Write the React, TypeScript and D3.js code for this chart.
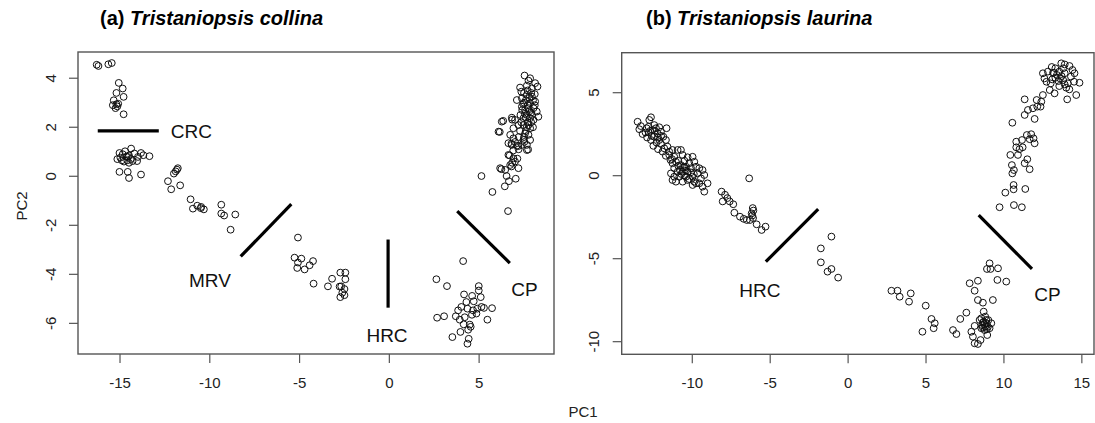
import React from 'react';
import * as d3 from 'd3';

// PCA scores, panel (a) Tristaniopsis collina
const collinaPoints: [number, number][] = [
  [-16.3, 4.55], [-16.2, 4.5], [-15.65, 4.57], [-15.46, 4.62],
  [-15.07, 3.81], [-14.85, 3.58], [-15.2, 3.4], [-14.8, 3.24], [-15.35, 3.1], [-15.2, 2.94],
  [-15.4, 2.9], [-15.15, 2.85], [-15.25, 2.78], [-15.1, 2.96], [-14.8, 2.53],
  [-15.03, 0.95], [-14.72, 1.02], [-14.38, 1.13], [-14.98, 0.76], [-14.6, 0.65], [-14.5, 0.85],
  [-14.2, 0.93], [-14.0, 0.79], [-13.83, 0.95], [-13.7, 0.86], [-13.36, 0.82], [-15.03, 0.18],
  [-14.57, 0.18], [-14.5, -0.07], [-13.83, 0.07], [-14.78, 0.6], [-14.3, 0.62], [-14.05, 0.62],
  [-14.85, 0.9], [-14.65, 0.8], [-14.5, 0.55], [-15.15, 0.7], [-14.57, 0.79], [-14.4, 0.7], [-14.9, 0.65],
  [-11.83, 0.27], [-11.78, 0.33], [-12.0, 0.11], [-12.33, -0.2], [-12.15, -0.53], [-11.65, -0.37], [-11.9, 0.2],
  [-11.07, -0.94], [-10.94, -1.32], [-10.7, -1.2], [-10.48, -1.25], [-10.33, -1.35], [-10.5, -1.3],
  [-9.36, -1.16], [-9.36, -1.52], [-9.2, -1.6], [-8.58, -1.56], [-8.84, -2.18],
  [-5.09, -2.5], [-5.28, -3.32], [-4.9, -3.36], [-5.09, -3.52], [-4.25, -3.46], [-4.44, -3.63],
  [-4.72, -3.8], [-5.13, -3.74], [-4.22, -4.38], [-3.19, -4.18], [-3.42, -4.49], [-2.73, -3.93],
  [-2.45, -3.93], [-2.45, -4.2], [-2.68, -4.49], [-2.5, -4.6], [-2.62, -4.75], [-2.73, -4.93],
  [-2.5, -4.85], [-2.77, -4.5],
  [4.11, -3.46], [2.62, -4.2], [3.21, -4.48], [2.66, -5.77], [3.05, -5.71], [4.16, -4.82],
  [4.61, -4.88], [4.98, -4.48], [4.98, -4.66], [5.09, -4.93], [4.7, -5.1], [4.29, -5.13],
  [4.01, -5.33], [3.83, -5.47], [4.35, -5.4], [4.66, -5.47], [4.9, -5.4], [5.13, -5.33],
  [5.27, -5.37], [5.72, -5.38], [4.85, -5.6], [3.7, -5.71], [3.92, -5.85], [5.46, -5.85],
  [4.14, -6.04], [4.48, -6.05], [4.53, -6.14], [4.39, -6.26], [3.96, -6.35], [3.51, -6.56],
  [4.42, -6.63], [4.35, -6.83], [4.6, -5.65], [4.2, -5.75],
  [6.61, -1.42], [5.74, -0.64], [5.13, 0.01], [6.43, -0.41], [6.66, -0.2], [7.04, -0.1],
  [6.53, 0.01], [6.24, 0.29], [6.8, 0.4], [6.84, 0.55], [7.13, 0.72], [6.7, 0.85],
  [6.15, 1.81], [6.34, 2.26], [6.84, 2.31], [7.73, 1.09], [6.8, 1.33], [7.18, 1.23], [7.52, 1.4],
  [7.53, 4.11], [7.84, 4.0], [8.12, 3.8], [8.25, 3.66], [7.66, 3.7], [7.28, 3.62], [7.94, 3.59],
  [7.1, 3.11], [7.38, 3.18], [7.66, 3.32], [7.94, 3.25], [7.84, 2.98], [8.12, 3.05], [7.38, 2.84],
  [7.56, 2.71], [7.75, 2.78], [8.03, 2.78], [8.21, 2.64], [8.3, 2.43], [7.66, 2.5], [7.47, 2.37],
  [7.84, 2.37], [8.03, 2.3], [6.82, 2.39], [7.0, 2.3], [6.26, 2.23], [6.08, 1.82], [7.19, 2.09],
  [7.47, 2.09], [7.75, 2.09], [7.84, 1.96], [6.91, 1.96], [7.28, 1.85], [7.56, 1.75], [7.75, 1.69],
  [6.73, 1.69], [6.91, 1.55], [6.63, 1.35], [6.82, 1.28], [7.1, 1.25], [7.38, 1.28], [7.66, 1.28],
  [7.84, 1.48], [7.47, 1.48], [7.66, 1.07], [6.63, 0.87], [6.91, 0.73], [6.73, 0.46], [7.0, 0.6],
  [6.17, 0.33], [6.45, 0.26], [7.19, 0.33],
  [7.5, 3.0], [7.7, 2.9], [7.9, 2.6], [7.6, 2.4], [7.7, 2.2], [7.4, 2.7], [8.0, 2.0], [7.3, 2.5],
  [7.9, 3.4], [7.5, 3.4], [8.1, 2.9], [7.2, 1.6], [7.5, 1.6], [7.0, 1.4], [7.2, 1.1], [6.9, 1.05],
  [7.6, 3.1], [7.8, 3.2], [8.0, 3.1], [7.7, 3.5], [7.45, 2.95], [7.95, 2.5], [7.55, 2.55],
  [7.8, 2.65], [7.65, 2.0], [7.35, 2.2], [7.9, 2.2], [7.6, 1.85], [8.1, 3.35], [7.35, 3.45], [7.75, 3.9],
];

// PCA scores, panel (b) Tristaniopsis laurina
const laurinaPoints: [number, number][] = [
  [-13.51, 3.25], [-13.3, 2.99], [-13.4, 2.8], [-13.19, 2.51], [-12.93, 2.86], [-12.76, 3.36],
  [-12.65, 3.52], [-12.44, 3.05], [-12.55, 2.75], [-12.33, 2.86], [-12.23, 2.55], [-12.12, 2.92],
  [-12.01, 2.65], [-11.65, 2.86], [-11.86, 2.35], [-12.44, 2.35], [-12.65, 2.15], [-12.12, 2.15],
  [-11.69, 2.15], [-12.01, 1.91], [-11.8, 1.65], [-11.59, 1.75], [-11.91, 1.45], [-11.48, 1.45],
  [-11.27, 1.55], [-11.48, 1.25], [-11.16, 1.14], [-10.94, 1.55], [-10.73, 1.55], [-10.62, 1.25],
  [-10.3, 1.11], [-9.98, 1.14], [-9.87, 0.84], [-10.19, 0.75], [-10.4, 0.54], [-10.73, 0.64],
  [-11.05, 0.84], [-11.27, 0.75], [-11.16, 0.45], [-10.94, 0.24], [-10.62, 0.24], [-10.3, 0.24],
  [-10.08, 0.45], [-9.76, 0.54], [-9.55, 0.45], [-9.34, 0.34], [-9.66, 0.14], [-9.98, -0.06],
  [-10.4, -0.06], [-10.83, -0.06], [-11.16, -0.06], [-11.37, 0.14], [-11.27, -0.26], [-11.05, -0.36],
  [-10.62, -0.36], [-10.3, -0.26], [-9.87, -0.36], [-9.76, -0.46], [-9.44, -0.16], [-9.23, 0.04],
  [-9.02, -0.46], [-9.34, -0.66], [-9.23, -0.96], [-9.55, -0.46], [-9.98, -0.56],
  [-12.8, 2.6], [-12.6, 2.4], [-12.9, 2.3], [-12.3, 2.0], [-12.5, 1.8], [-12.2, 1.6], [-11.7, 1.2],
  [-11.4, 0.95], [-10.9, 0.9], [-10.5, 0.9], [-10.7, 0.1], [-10.2, -0.2], [-10.5, 0.5],
  [-12.7, 2.7], [-12.4, 2.7], [-12.2, 2.3], [-12.0, 2.4], [-12.8, 2.95], [-13.0, 2.6], [-11.3, 1.0],
  [-10.9, 0.6], [-10.6, 0.5], [-10.4, 0.3], [-10.8, 0.35], [-10.5, 0.0], [-10.1, 0.2], [-9.9, 0.1],
  [-8.12, -0.96], [-7.9, -1.15], [-7.75, -1.35], [-8.05, -1.55], [-7.6, -1.55], [-7.37, -1.72],
  [-7.3, -2.23], [-6.94, -2.47], [-6.7, -2.6], [-6.5, -2.67], [-6.3, -2.67], [-6.19, -2.27],
  [-6.08, -2.1], [-6.12, -1.95], [-6.35, -0.16], [-5.87, -2.93], [-5.55, -3.27], [-5.3, -3.07],
  [-6.15, -2.4], [-6.1, -2.55],
  [-1.07, -3.67], [-1.75, -4.38], [-1.75, -5.22], [-1.32, -5.78], [-1.07, -5.62], [-0.64, -6.14],
  [2.78, -6.93], [3.17, -6.93], [3.31, -7.29], [4.02, -7.09], [3.91, -7.59], [4.98, -7.83],
  [5.35, -8.63], [5.56, -8.89], [5.49, -9.19], [4.77, -9.4], [6.73, -9.3], [6.95, -9.54],
  [7.2, -8.63], [7.59, -8.25],
  [7.8, -6.48], [8.33, -6.33], [8.12, -6.93], [8.33, -7.49], [8.65, -7.65], [8.7, -8.19],
  [9.29, -7.49], [9.08, -5.28], [8.91, -5.62], [9.14, -5.62], [9.62, -5.58], [9.58, -6.28],
  [10.15, -6.38], [8.55, -8.59], [9.19, -8.89], [8.87, -8.69], [8.65, -8.85], [8.97, -9.1],
  [8.55, -9.19], [8.12, -9.05], [7.91, -9.4], [8.01, -9.7], [8.12, -10.1], [8.33, -10.14],
  [8.5, -9.9], [8.93, -9.6], [8.76, -9.3], [9.08, -9.19], [8.44, -8.69], [8.8, -8.49],
  [8.7, -8.8], [8.9, -8.9], [8.6, -9.0], [8.8, -9.1], [9.0, -8.7], [8.75, -8.95], [8.65, -9.15], [8.9, -9.25],
  [9.72, -1.9], [10.64, -1.77], [11.15, -1.9], [10.09, -1.02], [10.62, -0.82], [10.62, -0.56],
  [11.37, -0.8], [10.54, 0.14], [10.64, 0.34], [10.51, 0.64], [11.33, 0.75], [11.65, 0.39],
  [11.5, 0.99], [10.41, 1.25], [10.9, 1.25], [10.79, 1.71], [11.0, 1.6], [11.2, 1.71],
  [10.79, 2.05], [11.16, 2.15], [11.47, 2.45], [11.75, 2.5], [11.65, 2.2], [11.97, 1.95],
  [11.9, 2.25], [10.54, 3.19], [11.33, 3.66], [11.54, 3.96], [11.33, 4.6], [11.97, 3.42],
  [11.86, 4.06], [12.14, 4.16], [12.4, 4.46], [12.35, 4.16], [12.1, 4.56], [12.5, 4.86],
  [12.5, 6.17], [12.82, 6.27], [13.15, 6.2], [13.68, 6.77], [13.9, 6.7], [13.8, 6.47],
  [14.21, 6.61], [14.53, 6.17], [14.3, 5.97], [14.85, 5.6], [14.64, 4.86], [14.06, 4.6],
  [14.2, 5.2], [14.0, 5.3], [13.55, 5.4], [13.25, 4.96], [12.94, 5.16], [13.0, 5.56],
  [12.73, 5.66], [12.6, 5.86], [13.1, 5.8], [13.4, 6.07], [13.6, 5.86], [13.8, 5.76],
  [13.9, 6.17], [13.3, 6.47], [13.07, 6.55], [13.55, 6.27], [14.1, 5.56], [14.4, 6.37], [14.5, 5.66],
  [13.3, 5.9], [13.7, 6.0], [13.2, 6.2], [13.9, 5.5], [13.5, 5.7],
];

const collinaXTicks = [-15, -10, -5, 0, 5];
const collinaYTicks = [-6, -4, -2, 0, 2, 4];
const laurinaXTicks = [-10, -5, 0, 5, 10, 15];
const laurinaYTicks = [-10, -5, 0, 5];

// group boundary segments [x1, y1, x2, y2] and their labels [name, x, y]
const collinaSegments = [
  [-16.24, 1.85, -12.84, 1.85],
  [-8.28, -3.27, -5.46, -1.14],
  [-0.07, -2.58, -0.07, -5.36],
  [3.78, -1.42, 6.71, -3.54],
];
const collinaLabels: [string, number, number][] = [
  ['CRC', -11.03, 1.55],
  ['MRV', -9.99, -4.51],
  ['HRC', -0.13, -6.75],
  ['CP', 7.53, -4.87],
];
const laurinaSegments = [
  [-5.28, -5.18, -1.92, -2.02],
  [8.38, -2.37, 11.8, -5.62],
];
const laurinaLabels: [string, number, number][] = [
  ['HRC', -5.66, -7.29],
  ['CP', 12.79, -7.53],
];

const FONT = '"Liberation Sans", Arial, Helvetica, sans-serif';
const AXIS = '#555';

type PanelProps = {
  title: string;
  species: string;
  titleX: number;
  left: number; right: number; top: number; bottom: number;
  xDomain: [number, number];
  yDomain: [number, number];
  points: [number, number][];
  xTicks: number[];
  yTicks: number[];
  segments: number[][];
  labels: [string, number, number][];
};

const Panel = (p: PanelProps) => {
  const x = d3.scaleLinear().domain(p.xDomain).range([p.left, p.right]);
  const y = d3.scaleLinear().domain(p.yDomain).range([p.bottom, p.top]);
  const tl = 9;
  return (
    <g>
      <text x={p.titleX} y={25} fontFamily={FONT} fontSize={20} fontWeight="bold">
        {p.title} <tspan fontStyle="italic">{p.species}</tspan>
      </text>
      <rect x={p.left} y={p.top} width={p.right - p.left} height={p.bottom - p.top}
        fill="none" stroke={AXIS} strokeWidth={1.4} />
      {p.xTicks.map((t) => (
        <g key={'x' + t}>
          <line x1={x(t)} x2={x(t)} y1={p.bottom} y2={p.bottom + tl} stroke={AXIS} strokeWidth={1.2} />
          <text x={x(t)} y={388} textAnchor="middle" fontFamily={FONT} fontSize={15} fill="#222">{t}</text>
        </g>
      ))}
      {p.yTicks.map((t) => (
        <g key={'y' + t}>
          <line x1={p.left - tl} x2={p.left} y1={y(t)} y2={y(t)} stroke={AXIS} strokeWidth={1.2} />
          <text transform={`translate(${p.left - 22.5},${y(t)}) rotate(-90)`} textAnchor="middle"
            fontFamily={FONT} fontSize={15} fill="#222">{t}</text>
        </g>
      ))}
      {p.points.map((d, i) => (
        <circle key={i} cx={x(d[0])} cy={y(d[1])} r={3.4} fill="none" stroke="#111" strokeWidth={1} />
      ))}
      {p.segments.map((s, i) => (
        <line key={'s' + i} x1={x(s[0])} y1={y(s[1])} x2={x(s[2])} y2={y(s[3])}
          stroke="#000" strokeWidth={3.2} />
      ))}
      {p.labels.map((l) => (
        <text key={l[0]} x={x(l[1])} y={y(l[2])} textAnchor="middle" fontFamily={FONT}
          fontSize={19} fill="#111">{l[0]}</text>
      ))}
    </g>
  );
};

export default function App() {
  return (
    <svg width={1095} height={423} style={{ position: 'absolute', left: 0, top: 0, background: '#fff' }}>
      <rect width={1095} height={423} fill="#fff" />
      <Panel title="(a)" species="Tristaniopsis collina" titleX={100}
        left={78} right={554} top={52} bottom={354}
        xDomain={[-17.34, 9.17]} yDomain={[-7.25, 5.07]}
        points={collinaPoints} xTicks={collinaXTicks} yTicks={collinaYTicks}
        segments={collinaSegments} labels={collinaLabels} />
      <Panel title="(b)" species="Tristaniopsis laurina" titleX={646}
        left={621.7} right={1094} top={52.7} bottom={354.3}
        xDomain={[-14.53, 15.78]} yDomain={[-10.76, 7.41]}
        points={laurinaPoints} xTicks={laurinaXTicks} yTicks={laurinaYTicks}
        segments={laurinaSegments} labels={laurinaLabels} />
      <text transform="translate(27,206) rotate(-90)" textAnchor="middle" fontFamily={FONT} fontSize={15} fill="#222">PC2</text>
      <text x={583} y={417} textAnchor="middle" fontFamily={FONT} fontSize={15} fill="#222">PC1</text>
    </svg>
  );
}
